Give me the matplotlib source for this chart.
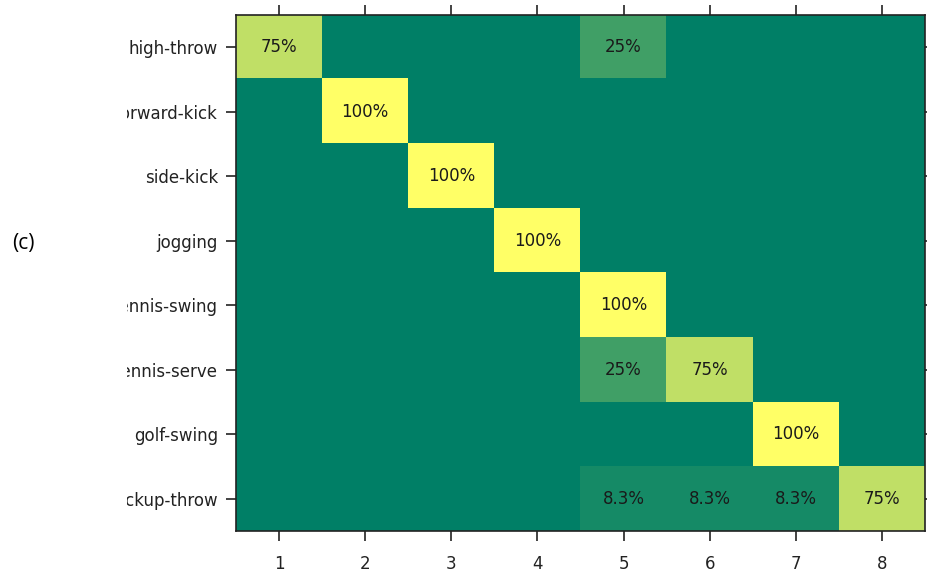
import numpy as np
import matplotlib
matplotlib.use("Agg")
import matplotlib.pyplot as plt
from matplotlib.transforms import Bbox, TransformedBbox

# confusion matrix (percent), rows = true class, cols = predicted cluster
classes = ["high-throw", "forward-kick", "side-kick", "jogging",
           "tennis-swing", "tennis-serve", "golf-swing", "pickup-throw"]
clusters = ["1", "2", "3", "4", "5", "6", "7", "8"]
row_high_throw = [75, 0, 0, 0, 25, 0, 0, 0]
row_forward_kick = [0, 100, 0, 0, 0, 0, 0, 0]
row_side_kick = [0, 0, 100, 0, 0, 0, 0, 0]
row_jogging = [0, 0, 0, 100, 0, 0, 0, 0]
row_tennis_swing = [0, 0, 0, 0, 100, 0, 0, 0]
row_tennis_serve = [0, 0, 0, 0, 25, 75, 0, 0]
row_golf_swing = [0, 0, 0, 0, 0, 0, 100, 0]
row_pickup_throw = [0, 0, 0, 0, 8.3, 8.3, 8.3, 75]

conf = np.array([row_high_throw, row_forward_kick, row_side_kick, row_jogging,
                 row_tennis_swing, row_tennis_serve, row_golf_swing,
                 row_pickup_throw])

fig = plt.figure(figsize=(9.27, 5.74), dpi=100)
ax = fig.add_axes([236 / 927, 1 - 531 / 574, 689 / 927, 516 / 574])

ax.imshow(conf, cmap="summer", vmin=0, vmax=100, aspect="auto",
          interpolation="nearest")

for i in range(conf.shape[0]):
    for j in range(conf.shape[1]):
        v = conf[i, j]
        if v > 0:
            txt = "%g%%" % v
            ax.text(j, i, txt, ha="center", va="center", fontsize=12,
                    color="#1a1a1a")

ax.set_xticks(range(len(clusters)))
ax.set_xticklabels(clusters)
ax.set_yticks(range(len(classes)))
ax.set_yticklabels(classes)
ax.tick_params(axis="both", which="both", direction="out", length=7,
               width=1.2, color="#222222", labelsize=12, labelcolor="#222222",
               top=True, right=True, labeltop=False, labelright=False)
ax.tick_params(axis="x", pad=10)
ax.tick_params(axis="y", pad=6)
for s in ax.spines.values():
    s.set_linewidth(1.2)
    s.set_color("#222222")

fig.text(12 / 927, 1 - 243 / 574, "(c)", fontsize=15, va="center",
         ha="left", family="Open Sans")

# long class names get cut off at the left
clip = TransformedBbox(Bbox([[127 / 927, 0], [1, 1]]), fig.transFigure)
fig.canvas.draw()
for lab in ax.get_yticklabels():
    lab.set_clip_on(True)
    lab.set_clip_box(clip)

fig.savefig("out.png", dpi=100)
